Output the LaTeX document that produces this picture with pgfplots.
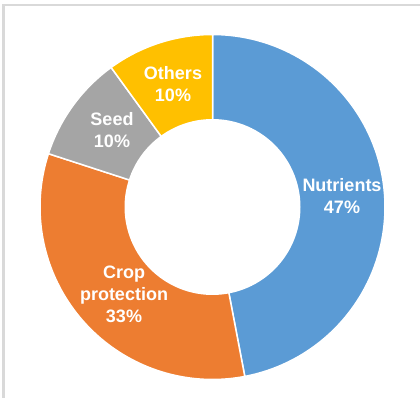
\documentclass[border=0pt]{standalone}
\usepackage{pgfplots}
\usepackage{pgfplotstable}
\pgfplotsset{compat=1.18}
\usepackage{fontspec}
\setmainfont{Liberation Sans}
\definecolor{cNut}{HTML}{5B9BD5}
\definecolor{cCrop}{HTML}{ED7D31}
\definecolor{cSeed}{HTML}{A5A5A5}
\definecolor{cOth}{HTML}{FFC000}
\definecolor{cFrame}{HTML}{D9D9D9}

\pgfplotstableread{
name share
Nutrients 47
Crop 33
Seed 10
Others 10
}\sharetable

\begin{document}
\begin{tikzpicture}
\pgfplotstablegetelem{0}{share}\of\sharetable \let\sA\pgfplotsretval
\pgfplotstablegetelem{1}{share}\of\sharetable \let\sB\pgfplotsretval
\pgfplotstablegetelem{2}{share}\of\sharetable \let\sC\pgfplotsretval
\pgfplotstablegetelem{3}{share}\of\sharetable \let\sD\pgfplotsretval
\pgfmathsetmacro{\aZ}{90}
\pgfmathsetmacro{\aA}{90-3.6*\sA}
\pgfmathsetmacro{\aB}{\aA-3.6*\sB}
\pgfmathsetmacro{\aC}{\aB-3.6*\sC}
\pgfmathsetmacro{\aD}{\aC-3.6*\sD}
\def\cx{212.5}
\def\cy{191}
\def\R{172.5}
\def\r{88}
\begin{axis}[
  width=420pt, height=398pt, scale only axis,
  xmin=0, xmax=420, ymin=0, ymax=398,
  hide axis, clip=true,
]
\path (axis cs:0,0) rectangle (axis cs:420,398);
\draw[cFrame, line width=2.4pt] (axis cs:3.5,-5) -- (axis cs:3.5,393) -- (axis cs:430,393);
\addplot[fill=cNut, draw=white, line width=1.5pt, domain=\aA:\aZ, samples=90, variable=\t]
  ({\cx+\R*cos(\t)},{\cy+\R*sin(\t)}) -- (axis cs:\cx,\cy) -- cycle;
\addplot[fill=cCrop, draw=white, line width=1.5pt, domain=\aB:\aA, samples=90, variable=\t]
  ({\cx+\R*cos(\t)},{\cy+\R*sin(\t)}) -- (axis cs:\cx,\cy) -- cycle;
\addplot[fill=cSeed, draw=white, line width=1.5pt, domain=\aC:\aB, samples=30, variable=\t]
  ({\cx+\R*cos(\t)},{\cy+\R*sin(\t)}) -- (axis cs:\cx,\cy) -- cycle;
\addplot[fill=cOth, draw=white, line width=1.5pt, domain=\aD:\aC, samples=30, variable=\t]
  ({\cx+\R*cos(\t)},{\cy+\R*sin(\t)}) -- (axis cs:\cx,\cy) -- cycle;
\addplot[fill=white, draw=none, domain=0:360, samples=120, variable=\t]
  ({\cx+\r*cos(\t)},{\cy+\r*sin(\t)}) -- cycle;
\tikzset{lbl/.style={align=center, text=white, font=\bfseries\fontsize{18}{22}\selectfont}}
\node[lbl] at (axis cs:342,202) {Nutrients\\47\%};
\node[lbl] at (axis cs:124,104) {Crop\\protection\\33\%};
\node[lbl] at (axis cs:112,268) {Seed\\10\%};
\node[lbl] at (axis cs:173,314) {Others\\10\%};
\end{axis}
\end{tikzpicture}
\end{document}
